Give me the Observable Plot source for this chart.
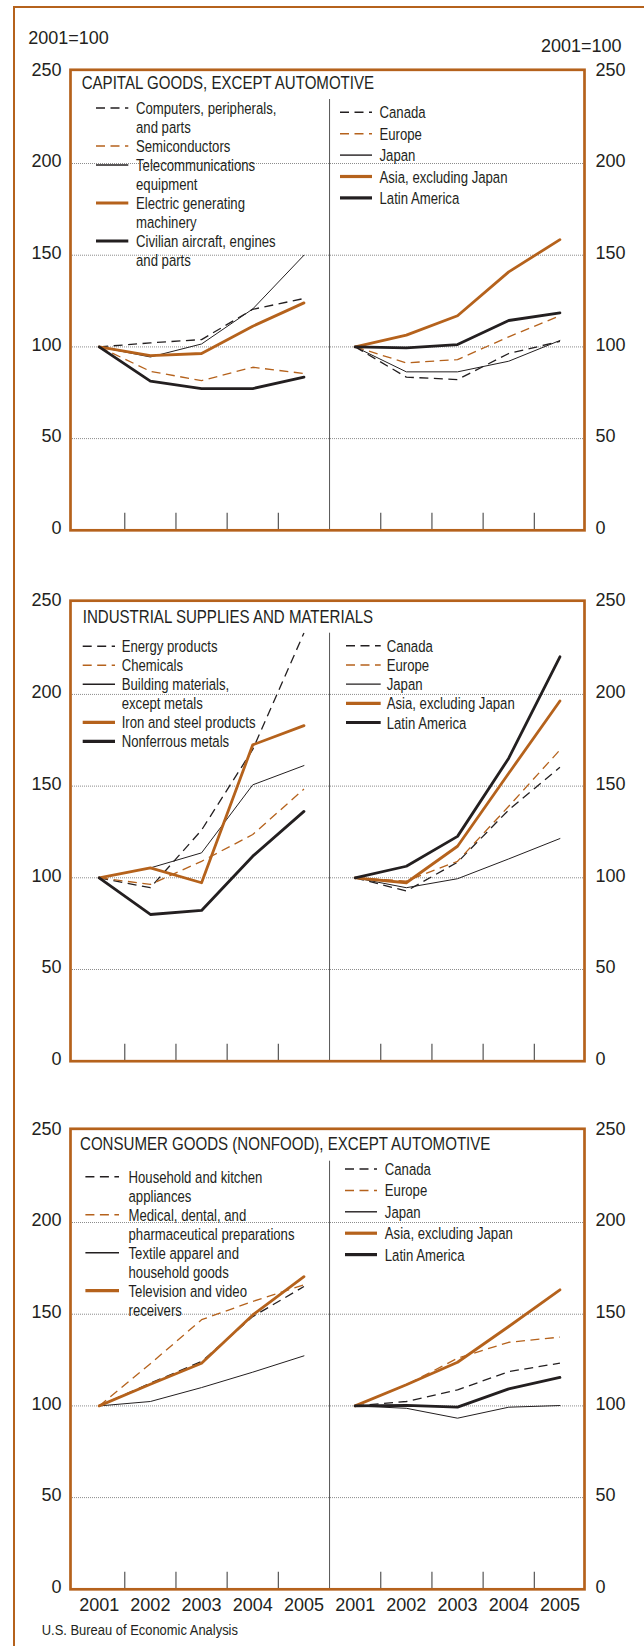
<!DOCTYPE html>
<html><head><meta charset="utf-8">
<script src="https://cdn.jsdelivr.net/npm/d3@7"></script>
<script src="https://cdn.jsdelivr.net/npm/@observablehq/plot@0.6"></script>
<style>
html,body{margin:0;padding:0;background:#fff;}
body{width:644px;height:1646px;overflow:hidden;position:relative;}
#outer{position:absolute;left:13.2px;top:5.5px;width:720px;height:1720px;border-left:2.5px solid #b5621c;border-top:2.5px solid #b5621c;box-sizing:border-box;}
#charts{position:absolute;left:0;top:0;width:644px;}
#charts svg{display:block;}
</style></head><body>
<div id="outer"></div>
<div id="charts"></div>
<script>
// ---------- data ----------
const years = [2001, 2002, 2003, 2004, 2005];
const yTicks = [0, 50, 100, 150, 200, 250];
const gridValues = [50, 100, 150, 200];
const indexLabel = "2001=100";
const source = "U.S. Bureau of Economic Analysis";

const regions = ["Canada", "Europe", "Japan", "Asia, excluding Japan", "Latin America"];

const capitalTitle = "CAPITAL GOODS, EXCEPT AUTOMOTIVE";
const capitalProducts = ["Computers, peripherals,\nand parts", "Semiconductors", "Telecommunications\nequipment", "Electric generating\nmachinery", "Civilian aircraft, engines\nand parts"];
const capitalProductValues = [
  [100, 102.2, 104.0, 120.5, 126.4],
  [100, 86.7, 81.6, 88.9, 85.5],
  [100, 94.5, 101.6, 120.7, 150.0],
  [100, 95.3, 96.4, 111.3, 124.0],
  [100, 81.3, 77.3, 77.3, 83.5]
];
const capitalRegionValues = [
  [100, 83.5, 82.2, 96.4, 103.0],
  [100, 91.3, 93.1, 105.5, 117.0],
  [100, 86.4, 86.4, 92.2, 103.5],
  [100, 106.4, 117.0, 140.9, 158.5],
  [100, 99.5, 101.3, 114.4, 118.5]
];

const industrialTitle = "INDUSTRIAL SUPPLIES AND MATERIALS";
const industrialProducts = ["Energy products", "Chemicals", "Building materials,\nexcept metals", "Iron and steel products", "Nonferrous metals"];
const industrialProductValues = [
  [100, 94.6, 126.0, 170.0, 233.5],
  [100, 96.4, 109.0, 123.6, 148.4],
  [100, 105.4, 113.6, 150.7, 161.2],
  [100, 105.4, 97.3, 172.5, 183.0],
  [100, 80.0, 82.2, 111.8, 136.2]
];
const industrialRegionValues = [
  [100, 92.8, 108.5, 137.0, 160.3],
  [100, 98.2, 109.0, 139.0, 169.7],
  [100, 94.6, 99.5, 110.3, 121.4],
  [100, 97.3, 117.2, 157.0, 196.4],
  [100, 106.3, 122.6, 165.2, 220.5]
];

const consumerTitle = "CONSUMER GOODS (NONFOOD), EXCEPT AUTOMOTIVE";
const consumerProducts = ["Household and kitchen\nappliances", "Medical, dental, and\npharmaceutical preparations", "Textile apparel and\nhousehold goods", "Television and video\nreceivers"];
const consumerProductValues = [
  [100, 112.4, 124.2, 148.7, 165.1],
  [100, 123.0, 147.0, 157.0, 166.0],
  [100, 102.4, 110.0, 118.4, 127.3],
  [100, 111.8, 123.3, 149.6, 170.5]
];
const consumerRegionValues = [
  [100, 102.4, 108.7, 118.7, 123.3],
  [100, 111.5, 126.0, 134.7, 137.5],
  [100, 98.7, 93.3, 99.3, 100.2],
  [100, 111.5, 123.8, 143.3, 163.3],
  [100, 100.3, 99.3, 109.3, 115.5]
];

// ---------- styling ----------
const ORANGE = "#b5621c";
const INK = "#231f20";
const FONT = "'Liberation Sans', Arial, Helvetica, sans-serif";
const lineStyles = [
  {stroke: INK, strokeWidth: 1.3, dash: "9,5.5"},
  {stroke: ORANGE, strokeWidth: 1.3, dash: "9,5.5"},
  {stroke: INK, strokeWidth: 1, dash: null},
  {stroke: ORANGE, strokeWidth: 2.8, dash: null},
  {stroke: INK, strokeWidth: 2.8, dash: null}
];
const PLOT_H = 460.5;
const Y_MAX = 251.1;
const PX_PER_UNIT = PLOT_H / Y_MAX;
const X_DOMAIN = [-0.56, 9.48];
const positions = d3.range(years.length * 2);
const boundaries = positions.filter(i => i % years.length !== years.length - 1).map(i => i + 0.5);
const dividerPos = years.length - 0.5;

function condensed(g, x, y, str, size, sx) {
  g.append("text")
    .attr("transform", `translate(${x},${y}) scale(${sx},1)`)
    .attr("font-size", size)
    .text(str);
}

function makePanel(cfg) {
  const rows = [];
  cfg.products.forEach((name, i) => cfg.productValues[i].forEach((v, j) =>
    rows.push({series: "p" + i, style: i, pos: j, value: v})));
  regions.forEach((name, i) => cfg.regionValues[i].forEach((v, j) =>
    rows.push({series: "r" + i, style: i, pos: years.length + j, value: v})));

  const marks = [
    Plot.ruleY(gridValues, {stroke: "#8c8c8c", strokeWidth: 1, strokeDasharray: "1,1"}),
    Plot.ruleX(boundaries, {y1: 0, y2: 17 / PX_PER_UNIT, stroke: "#555", strokeWidth: 1.2}),
    Plot.ruleX([dividerPos], {y1: 0, y2: Y_MAX - cfg.dividerOffset / PX_PER_UNIT, stroke: "#555", strokeWidth: 1}),
    Plot.axisY({anchor: "left", ticks: yTicks, tickSize: 0, tickPadding: 9, dy: -2, label: null}),
    Plot.axisY({anchor: "right", ticks: yTicks, tickSize: 0, tickPadding: 11, dy: -2, label: null}),
    ...lineStyles.map((s, i) => Plot.line(rows.filter(r => r.style === i), {
      x: "pos", y: "value", z: "series",
      stroke: s.stroke, strokeWidth: s.strokeWidth,
      strokeDasharray: s.dash || undefined,
      strokeLinecap: s.dash ? "butt" : "round",
      strokeLinejoin: "round"
    })),
    Plot.frame({stroke: ORANGE, strokeWidth: 2.7})
  ];
  if (cfg.showYears) {
    marks.push(Plot.axisX({anchor: "bottom", ticks: positions, tickFormat: i => String(years[i % years.length]), tickSize: 0, tickPadding: 9, label: null}));
  }
  const svg = Plot.plot({
    width: 644,
    height: cfg.mt + PLOT_H + cfg.mb,
    marginLeft: 70, marginRight: 60, marginTop: cfg.mt, marginBottom: cfg.mb,
    x: cfg.showYears ? {domain: X_DOMAIN, label: null} : {domain: X_DOMAIN, axis: null, label: null},
    y: {domain: [0, Y_MAX], label: null},
    style: {fontFamily: FONT, fontSize: "18px", color: INK, background: "transparent", overflow: "visible"},
    marks
  });

  const g = d3.select(svg).append("g")
    .attr("font-family", FONT).attr("fill", INK).attr("text-anchor", "start");
  condensed(g, cfg.titleX, cfg.mt + cfg.titleBase, cfg.title, 18.5, 0.815);

  function legend(names, spec) {
    let k = 0;
    names.forEach((name, i) => {
      const lines = name.split("\n");
      const base = cfg.mt + spec.base + spec.step * k;
      const s = lineStyles[i];
      g.append("line")
        .attr("x1", spec.x1).attr("x2", spec.x2)
        .attr("y1", base - 6).attr("y2", base - 6)
        .attr("stroke", s.stroke).attr("stroke-width", s.strokeWidth + (s.dash ? 0.2 : 0.4))
        .attr("stroke-dasharray", s.dash);
      lines.forEach((ln, m) => condensed(g, spec.tx, base + spec.step * m, ln, 17, 0.775));
      k += lines.length;
    });
  }
  legend(cfg.products, cfg.left);
  legend(regions, cfg.right);
  document.getElementById("charts").appendChild(svg);
  return g;
}

const g1 = makePanel({
  title: capitalTitle, products: capitalProducts,
  productValues: capitalProductValues, regionValues: capitalRegionValues,
  mt: 69.3, mb: 35.2, titleX: 81.7, titleBase: 20, dividerOffset: 29.7,
  left: {x1: 96, x2: 128.3, tx: 136, base: 44.7, step: 19},
  right: {x1: 340, x2: 372, tx: 379.5, base: 49, step: 21.4}
});
g1.append("text").attr("x", 28.3).attr("y", 44.3).attr("font-size", 18).text(indexLabel);
g1.append("text").attr("x", 541).attr("y", 51.5).attr("font-size", 18).text(indexLabel);

makePanel({
  title: industrialTitle, products: industrialProducts,
  productValues: industrialProductValues, regionValues: industrialRegionValues,
  mt: 35.2, mb: 34.3, titleX: 82.7, titleBase: 23.1, dividerOffset: 32.5,
  left: {x1: 82.7, x2: 115, tx: 121.7, base: 52.1, step: 19},
  right: {x1: 346, x2: 380.7, tx: 386.7, base: 51.5, step: 19.2}
});

const g3 = makePanel({
  title: consumerTitle, products: consumerProducts,
  productValues: consumerProductValues, regionValues: consumerRegionValues,
  mt: 33.3, mb: 57.2, titleX: 80, titleBase: 21.7, dividerOffset: 32.4,
  showYears: true,
  left: {x1: 85.4, x2: 119, tx: 128.5, base: 54.4, step: 19},
  right: {x1: 345, x2: 377, tx: 384.8, base: 46.7, step: 21.4}
});
condensed(g3, 41.7, 540, source, 15.4, 0.84);
</script>
</body></html>
